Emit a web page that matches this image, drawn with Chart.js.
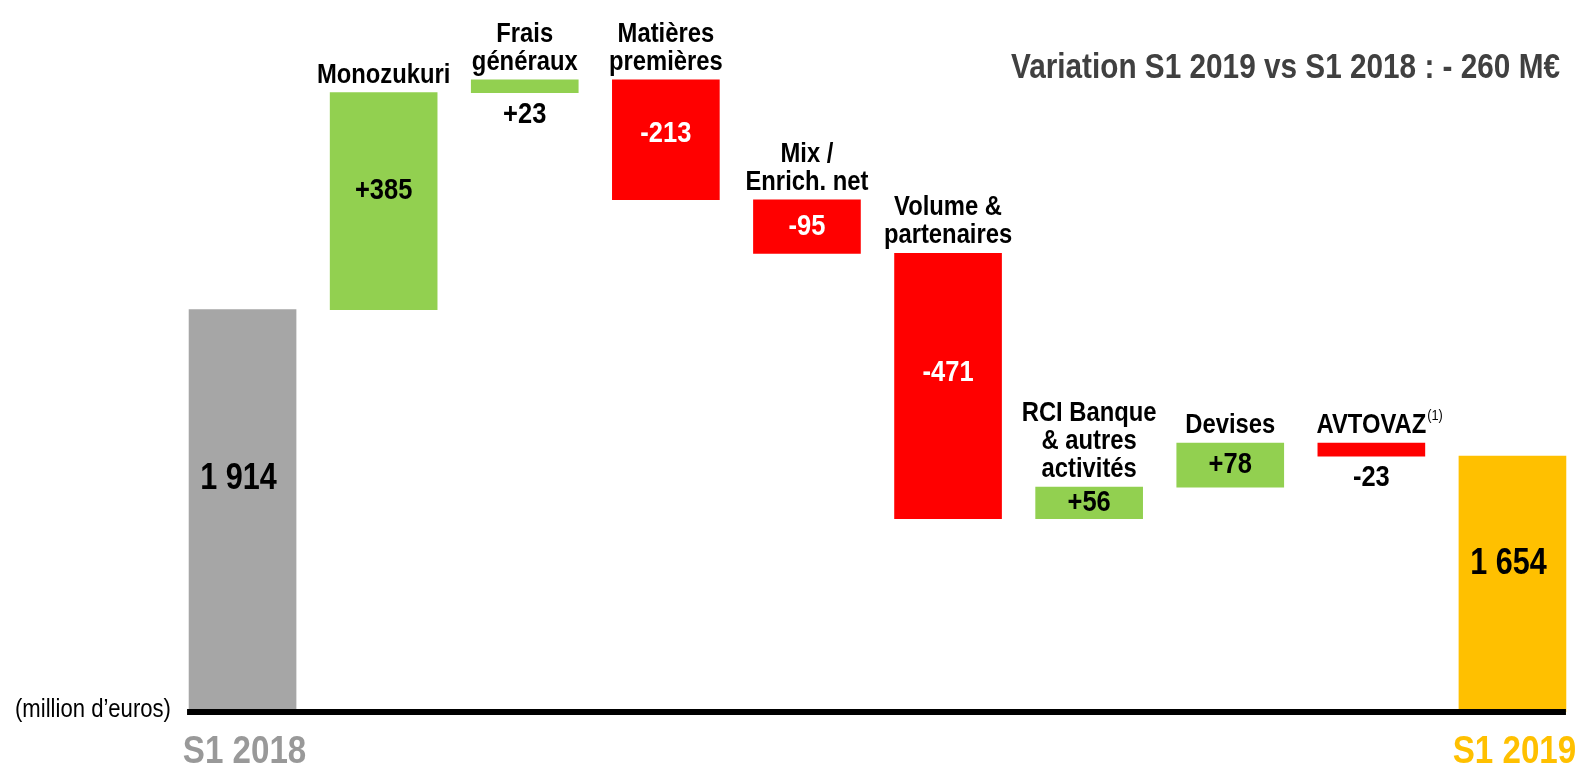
<!DOCTYPE html>
<html>
<head>
<meta charset="utf-8">
<script src="https://cdn.jsdelivr.net/npm/chart.js@4"></script>
<style>
    html, body { margin: 0; padding: 0; background: #fff; }
    #wrap { width: 1583px; height: 765px; position: relative; }
</style>
</head>
<body>
<div id="wrap"><canvas id="waterfallChart"></canvas></div>
<script>
// values (million d'euros)
const categories = ["S1 2018", ["Monozukuri"], ["Frais", "généraux"], ["Matières", "premières"],
    ["Mix /", "Enrich. net"], ["Volume &", "partenaires"], ["RCI Banque", "& autres", "activités"],
    ["Devises"], ["AVTOVAZ"], "S1 2019"];
const startTotal = 1914;
const endTotal = 1654;
const deltas = [385, 23, -213, -95, -471, 56, 78, -23];
const footnotes = ["", "", "", "", "", "", "", "", "(1)", ""];
const titleText = "Variation S1 2019 vs S1 2018 : - 260 M€";
const unitText = "(million d’euros)";

const yMin = 1200;
const FONT = "'Liberation Sans', Arial, sans-serif";
const NARROW = 0.85; // no narrow font installed, squeeze horizontally

const colors = {
    start: "#A6A6A6",
    up: "#92D050",
    down: "#FF0000",
    end: "#FFC000"
};

// build floating bars
let running = startTotal;
const bars = [[yMin, startTotal]];
const barColors = [colors.start];
deltas.forEach(d => {
    bars.push([running, running + d]);
    barColors.push(d >= 0 ? colors.up : colors.down);
    running += d;
});
bars.push([yMin, endTotal]);
barColors.push(colors.end);

function fmt(n) {
    return String(n).replace(/\B(?=(\d{3})+(?!\d))/g, " ");
}

function text(ctx, txt, x, y, font, color, align, baseline) {
    ctx.save();
    ctx.font = font;
    ctx.fillStyle = color;
    ctx.textAlign = align || "center";
    ctx.textBaseline = baseline || "alphabetic";
    ctx.translate(x, y);
    ctx.scale(NARROW, 1);
    ctx.fillText(txt, 0, 0);
    const w = ctx.measureText(txt).width * NARROW;
    ctx.restore();
    return w;
}

const labelPlugin = {
    id: "waterfallLabels",
    afterDatasetsDraw(chart) {
        const ctx = chart.ctx;
        const meta = chart.getDatasetMeta(0);
        const last = meta.data.length - 1;

        meta.data.forEach((bar, i) => {
            const top = Math.min(bar.y, bar.base);
            const bottom = Math.max(bar.y, bar.base);
            const h = bottom - top;
            const x = bar.x;

            if (i === 0 || i === last) {
                text(ctx, fmt(i === 0 ? startTotal : endTotal), x - 4, top + h * 0.42,
                    "bold 36px " + FONT, "#000", "center", "middle");
                text(ctx, categories[i], x + 2, 763, "bold 39px " + FONT,
                    i === 0 ? "#999999" : colors.end);
                return;
            }

            const d = deltas[i - 1];
            const txt = (d > 0 ? "+" : "") + d;
            const vf = "bold 30px " + FONT;
            if (h > 25) {
                text(ctx, txt, x, top + h * (h > 60 ? 0.45 : 0.5), vf, d < 0 ? "#fff" : "#000", "center", "middle");
            } else {
                text(ctx, txt, x, bottom + 30, vf, "#000");
            }

            // category label above the bar
            const lines = categories[i];
            const lh = 28;
            lines.forEach((ln, k) => {
                const yy = top - 10 - (lines.length - 1 - k) * lh;
                const w = text(ctx, ln, x, yy, "bold 28px " + FONT, "#000");
                if (footnotes[i] && k === lines.length - 1) {
                    text(ctx, footnotes[i], x + w / 2 + 1, yy - 13, "15px " + FONT, "#000", "left");
                }
            });
        });

        // axis line
        const first = meta.data[0];
        const lastBar = meta.data[last];
        const yAxis = chart.scales.y.getPixelForValue(yMin);
        ctx.save();
        ctx.strokeStyle = "#000";
        ctx.lineWidth = 6;
        ctx.beginPath();
        ctx.moveTo(first.x - first.width / 2 - 2, yAxis);
        ctx.lineTo(lastBar.x + lastBar.width / 2, yAxis);
        ctx.stroke();
        ctx.restore();

        text(ctx, unitText, 15, 717, "26px " + FONT, "#000", "left");
        text(ctx, titleText, 1560, 78, "bold 35px " + FONT, "#404040", "right");
    }
};

const ctx = document.getElementById("waterfallChart").getContext("2d");
new Chart(ctx, {
    type: "bar",
    data: {
        labels: categories.map(c => Array.isArray(c) ? c.join(" ") : c),
        datasets: [{
            data: bars,
            backgroundColor: barColors,
            borderWidth: 0,
            borderSkipped: false,
            barThickness: 107
        }]
    },
    options: {
        responsive: true,
        maintainAspectRatio: false,
        animation: false,
        events: [],
        layout: { padding: { left: 172, right: 0, top: 0, bottom: 53 } },
        scales: {
            x: { display: false },
            y: { display: false, min: yMin, max: 2463.5 }
        },
        plugins: {
            legend: { display: false },
            tooltip: { enabled: false }
        }
    },
    plugins: [labelPlugin]
});
</script>
</body>
</html>
